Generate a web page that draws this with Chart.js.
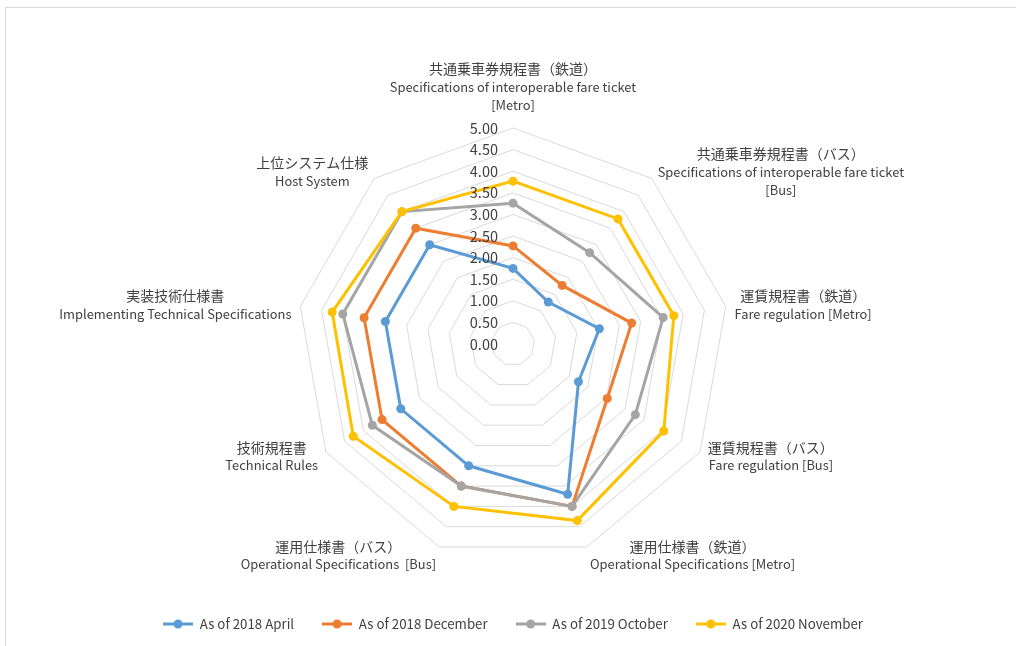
<!DOCTYPE html>
<html lang="ja">
<head>
  <meta charset="UTF-8">
  <title>Radar - specifications progress</title>
  <script src="https://cdn.jsdelivr.net/npm/chart.js"></script>
  <style>
    body { margin: 0; background: #fff; }
    .frame { position: absolute; left: 5px; top: 7px; width: 1100px; height: 700px; border: 1px solid #d9d9d9; }
    .wrap { position: absolute; left: 0; top: 0; width: 1016px; height: 646px; }
  </style>
</head>
<body>

  <div class="frame"></div>
  <div class="wrap"><canvas id="radarChart" width="1016" height="646"></canvas></div>

  <script>
    // axis labels (Japanese line + English lines)
    const labelsJa = [
      '共通乗車券規程書（鉄道）',
      '共通乗車券規程書（バス）',
      '運賃規程書（鉄道）',
      '運賃規程書（バス）',
      '運用仕様書（鉄道）',
      '運用仕様書（バス）',
      '技術規程書',
      '実装技術仕様書',
      '上位システム仕様'
    ];
    const labelsEn = [
      ['Specifications of interoperable fare ticket', '[Metro]'],
      ['Specifications of interoperable fare ticket', '[Bus]'],
      ['Fare regulation [Metro]'],
      ['Fare regulation [Bus]'],
      ['Operational Specifications [Metro]'],
      ['Operational Specifications  [Bus]'],
      ['Technical Rules'],
      ['Implementing Technical Specifications'],
      ['Host System']
    ];

    const seriesNames = ['As of 2018 April', 'As of 2018 December', 'As of 2019 October', 'As of 2020 November'];
    const seriesColors = ['#5B9BD5', '#ED7D31', '#A5A5A5', '#FFC000'];

    const april2018    = [1.75, 1.27, 2.03, 1.75, 3.70, 3.00, 3.00, 3.00, 3.00];
    const december2018 = [2.27, 1.77, 2.79, 2.52, 4.00, 3.50, 3.50, 3.50, 3.50];
    const october2019  = [3.26, 2.76, 3.53, 3.27, 4.00, 3.50, 3.76, 4.00, 4.00];
    const november2020 = [3.77, 3.78, 3.78, 4.03, 4.35, 4.00, 4.27, 4.25, 4.00];

    const tickMin = 0;
    const tickMax = 5;
    const tickStep = 0.5;

    const seriesValues = [april2018, december2018, october2019, november2020];
    const textColor = '#404040';
    const jaFont = '14px "Noto Sans CJK JP"';
    const enFont = '12.9px "Noto Sans CJK JP"';
    const tickFont = '14.5px "Noto Sans CJK JP"';

    // little line + dot icon for the legend
    function legendIcon(color) {
      const c = document.createElement('canvas');
      c.width = 30; c.height = 10;
      const g = c.getContext('2d');
      g.strokeStyle = color; g.lineWidth = 3;
      g.beginPath(); g.moveTo(0, 5); g.lineTo(30, 5); g.stroke();
      g.fillStyle = color;
      g.beginPath(); g.arc(15, 5, 4.5, 0, Math.PI * 2); g.fill();
      return c;
    }
    const icons = seriesColors.map(legendIcon);

    // tick labels left of the vertical axis + two-font point labels
    const axisText = {
      id: 'axisText',
      afterDatasetsDraw(chart) {
        const scale = chart.scales.r;
        const ctx = chart.ctx;
        ctx.save();
        ctx.fillStyle = textColor;
        ctx.font = tickFont;
        ctx.textAlign = 'right';
        ctx.textBaseline = 'middle';
        scale.ticks.forEach(t => {
          const d = scale.getDistanceFromCenterForValue(t.value);
          ctx.fillText(t.value.toFixed(2), scale.xCenter - 15, scale.yCenter - d);
        });

        const n = chart.data.labels.length;
        ctx.textAlign = 'center';
        for (let i = 0; i < n; i++) {
          const deg = i * 360 / n;
          const pos = scale.getPointPosition(i, scale.drawingArea + (deg === 0 ? 14 : 9));
          const lines = [{ text: labelsJa[i], font: jaFont }]
            .concat(labelsEn[i].map(s => ({ text: s, font: enFont })));
          let boxW = 0;
          lines.forEach(l => { ctx.font = l.font; boxW = Math.max(boxW, ctx.measureText(l.text).width); });
          const lh = 18;
          const boxH = lines.length * lh;
          let left, top;
          if (deg === 0) { left = pos.x - boxW / 2; top = pos.y - boxH; }
          else if (deg < 180) { left = pos.x; top = pos.y - boxH / 2; }
          else { left = pos.x - boxW; top = pos.y - boxH / 2; }
          lines.forEach((l, k) => {
            ctx.font = l.font;
            ctx.fillText(l.text, left + boxW / 2, top + k * lh + lh / 2);
          });
        }
        ctx.restore();
      }
    };

    const ctxRadar = document.getElementById('radarChart').getContext('2d');
    const radarChart = new Chart(ctxRadar, {
      type: 'radar',
      data: {
        labels: labelsJa,
        datasets: seriesNames.map((name, i) => ({
          label: name,
          data: seriesValues[i],
          borderColor: seriesColors[i],
          backgroundColor: seriesColors[i],
          pointBackgroundColor: seriesColors[i],
          pointBorderColor: seriesColors[i],
          pointBorderWidth: 0,
          pointRadius: 4.5,
          borderWidth: 3,
          fill: false,
          order: seriesNames.length - i // later series on top
        }))
      },
      options: {
        responsive: false,
        animation: false,
        layout: { padding: { left: 10, right: 0, top: 128, bottom: 5.35 } },
        plugins: {
          tooltip: { enabled: false },
          legend: {
            position: 'bottom',
            title: { display: true, text: '', font: { size: 10, lineHeight: 1 }, padding: { top: 9.675, bottom: 9.675 } },
            labels: {
              usePointStyle: true,
              pointStyleWidth: 30,
              padding: 28,
              color: textColor,
              font: { family: '"Noto Sans CJK JP"', size: 13.3 },
              generateLabels: chart => chart.data.datasets.map((ds, i) => ({
                text: ds.label,
                pointStyle: icons[i],
                fillStyle: ds.borderColor,
                strokeStyle: ds.borderColor,
                fontColor: textColor,
                lineWidth: 0,
                hidden: !chart.isDatasetVisible(i),
                datasetIndex: i
              }))
            }
          }
        },
        scales: {
          r: {
            min: tickMin,
            max: tickMax,
            ticks: { stepSize: tickStep, display: false },
            grid: { color: '#d9d9d9', lineWidth: 1 },
            angleLines: { display: false },
            pointLabels: { display: false }
          }
        }
      },
      plugins: [axisText]
    });
  </script>

</body>
</html>
